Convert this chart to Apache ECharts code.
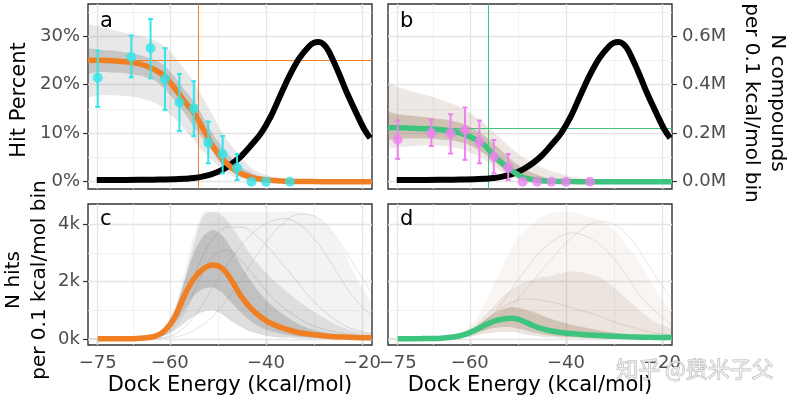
<!DOCTYPE html>
<html><head><meta charset="utf-8">
<script src="https://cdn.jsdelivr.net/npm/echarts@6/dist/echarts.min.js"></script>
<style>html,body{margin:0;padding:0;background:#fff}#c{width:800px;height:402px}</style>
</head><body><div id="c"></div>
<script>
// ---------------- data ----------------
const xTicks = [-75, -60, -40, -20];
const xMinor = [-67.5, -50, -30];
const hitTicks = [0, 10, 20, 30];
const hitMinor = [5, 15, 25, 35];
const cmpTicks = [0, 0.2, 0.4, 0.6];
const nhitTicks = [0, 2, 4];
const nhitMinor = [1, 3];

// N compounds per 0.1 kcal/mol bin (millions)
const cmpX = [-75.2,-70,-65,-62,-59,-57,-55,-53,-51,-49,-47,-45,-43,-41,-39,-37,-35,-33,-31,-30,-29,-28,-27,-25,-23,-21,-19.5,-18.3];
const cmpM = [0.007,0.007,0.008,0.009,0.010,0.012,0.015,0.022,0.033,0.050,0.075,0.108,0.152,0.200,0.268,0.355,0.440,0.510,0.558,0.572,0.575,0.566,0.540,0.455,0.360,0.275,0.215,0.180];

// observed hit rates (%) per bin
const binX  = [-75,-68,-64,-61,-58,-55,-52,-49,-46,-43,-40,-35];
const hitA   = [21.4,25.7,27.5,21.1,16.3,15.1,8.0,5.7,2.9,0,0,0];
const hitALo = [15.4,21.5,21.3,14.8,10.4,9.4,3.8,1.7,0.35,0,0,0];
const hitAHi = [27.0,30.1,33.5,27.5,22.2,20.7,12.4,9.4,5.7,0,0,0];
const hitB   = [8.7,10.0,10.0,10.6,8.2,5.1,2.9,0,0,0,0,0];
const hitBLo = [4.7,7.35,5.8,4.5,3.8,1.7,0.35,0,0,0,0,0];
const hitBHi = [12.6,12.8,13.9,15.3,12.6,8.6,5.7,0,0,0,0,0];

// fitted hit-rate curves (%) and posterior envelopes
const fitX   = [-77,-75,-72,-69,-66,-63,-61,-59,-57,-55,-53,-51,-49,-47,-45,-43,-41,-39,-36,-33,-30,-25,-18];
const fitA   = [25.0,25.0,24.9,24.7,24.2,23.0,21.6,19.3,16.6,14.2,10.8,7.3,4.6,2.8,1.6,0.9,0.5,0.28,0.12,0.05,0.02,0.01,0];
const aOutLo = [17.5,17.8,17.8,17.6,17.2,16.2,14.8,13.0,10.8,8.6,6.2,4.2,2.4,1.2,0.5,0.15,0.05,0,0,0,0,0,0];
const aOutHi = [32.2,32.0,31.3,30.6,30.0,29.0,27.8,25.8,23.2,20.6,17.2,13.6,10.0,7.2,4.8,2.8,1.7,1.1,0.5,0.25,0.1,0.03,0];
const aInLo  = [22.4,22.6,22.5,22.3,21.8,20.8,19.0,16.8,14.2,11.3,8.6,6.0,3.3,2.0,1.0,0.4,0.15,0.05,0,0,0,0,0];
const aInHi  = [27.3,27.2,27.0,26.6,26.0,25.0,23.8,21.6,19.0,16.6,13.2,9.8,7.0,4.8,3.0,1.8,1.0,0.55,0.2,0.08,0.03,0.01,0];
const fitB   = [11.1,11.1,11.0,10.9,10.7,10.3,9.7,8.8,7.6,5.4,3.6,2.1,0.9,0.45,0.2,0.1,0.05,0.02,0.01,0,0,0,0];
const bOutLo = [7.0,7.1,7.3,7.5,7.4,7.0,6.5,5.6,4.6,3.2,1.8,0.8,0.2,0.05,0,0,0,0,0,0,0,0,0];
const bOutHi = [20.0,19.5,18.6,17.8,16.9,15.8,14.8,13.5,12.0,10.2,8.4,6.6,5.1,4.0,3.0,2.2,1.6,1.1,0.6,0.3,0.15,0.05,0];
const bInLo  = [8.8,8.9,8.9,8.9,8.7,8.4,7.9,7.0,5.8,4.2,2.6,1.4,0.5,0.15,0.05,0,0,0,0,0,0,0,0];
const bInHi  = [14.2,13.9,13.6,13.3,12.9,12.4,11.8,10.8,9.5,7.8,6.0,4.2,2.8,1.8,1.1,0.6,0.35,0.2,0.08,0.03,0.01,0,0];

// reference lines
const refAX = [-54.1], refAY = [25.0];
const refBX = [-56.2], refBY = [11.1];

// N hits per 0.1 kcal/mol bin (thousands)
const nX     = [-77,-75,-70,-66,-63,-61,-59,-57,-55,-53,-51,-49,-47,-45,-43,-41,-39,-36,-33,-30,-27,-24,-21,-18];
const nhitC  = [0.01,0.01,0.01,0.03,0.1,0.3,0.75,1.5,2.1,2.45,2.58,2.45,2.0,1.45,1.05,0.76,0.55,0.35,0.22,0.15,0.1,0.07,0.05,0.04];
const cOutLo = [0,0,0,0.01,0.04,0.12,0.3,0.55,0.8,0.95,1.0,0.85,0.6,0.4,0.25,0.15,0.09,0.04,0.02,0.01,0,0,0,0];
const cOutHi = [0.02,0.02,0.03,0.06,0.2,0.45,1.1,2.3,3.6,4.44,4.44,4.44,4.44,4.44,4.44,4.44,4.44,4.44,4.44,4.3,3.9,3.1,2.1,1.2];
const cMidHi = [0.015,0.015,0.02,0.05,0.15,0.38,0.95,2.0,3.3,4.3,4.44,4.3,3.9,3.4,2.9,2.5,2.15,1.7,1.3,0.95,0.65,0.4,0.25,0.15];
const cInLo  = [0.005,0.005,0.01,0.02,0.07,0.2,0.5,1.0,1.5,1.75,1.8,1.6,1.25,0.9,0.6,0.4,0.27,0.15,0.08,0.05,0.03,0.02,0.01,0.01];
const cInHi  = [0.015,0.015,0.02,0.045,0.14,0.4,1.0,2.0,3.0,3.6,3.8,3.6,3.1,2.5,2.0,1.55,1.2,0.8,0.5,0.32,0.2,0.12,0.08,0.06];
const nhitD  = [0.01,0.01,0.015,0.03,0.08,0.16,0.3,0.47,0.62,0.7,0.72,0.63,0.48,0.36,0.28,0.23,0.19,0.15,0.12,0.1,0.08,0.065,0.055,0.05];
const dOutLo = [0,0,0,0.01,0.03,0.07,0.12,0.18,0.22,0.25,0.24,0.18,0.12,0.08,0.05,0.03,0.02,0.01,0,0,0,0,0,0];
const dOutHi = [0.02,0.02,0.03,0.06,0.15,0.3,0.6,1.2,1.9,2.6,3.3,3.7,4.0,4.25,4.4,4.44,4.44,4.3,4.15,3.8,3.2,2.5,1.6,0.9];
const dMidHi = [0.015,0.015,0.02,0.05,0.12,0.25,0.45,0.8,1.15,1.5,1.75,1.95,2.05,2.15,2.2,2.3,2.35,2.3,2.15,1.8,1.35,0.9,0.55,0.35];
const dInLo  = [0.005,0.005,0.01,0.02,0.05,0.1,0.2,0.3,0.38,0.42,0.4,0.33,0.24,0.17,0.12,0.09,0.07,0.05,0.03,0.02,0.015,0.01,0.01,0.01];
const dInHi  = [0.015,0.015,0.02,0.045,0.11,0.22,0.4,0.65,0.88,1.05,1.12,1.05,0.95,0.82,0.7,0.6,0.5,0.4,0.3,0.22,0.16,0.12,0.09,0.07];

// a few individual posterior draws (thousands)
const sX  = [-64,-60,-57,-54,-51,-48,-45,-42,-39,-36,-33,-30,-27,-24,-21,-18];
const cS1 = [0.05,0.4,1.3,2.6,3.5,3.9,3.9,3.6,3.1,2.5,1.9,1.3,0.85,0.5,0.3,0.18];
const cS2 = [0.02,0.1,0.4,1.0,1.8,2.6,3.3,3.8,4.1,4.2,4.0,3.5,2.8,2.0,1.3,0.8];
const cS3 = [0.03,0.25,0.9,2.0,2.9,3.1,2.7,2.1,1.5,1.05,0.7,0.45,0.3,0.2,0.12,0.08];
const cS4 = [0.01,0.05,0.15,0.4,0.8,1.4,2.1,2.9,3.6,4.1,4.35,4.3,3.9,3.2,2.4,1.6];
const dS1 = [0.02,0.15,0.5,1.1,1.8,2.5,3.1,3.5,3.7,3.6,3.3,2.8,2.1,1.4,0.9,0.5];
const dS2 = [0.01,0.1,0.3,0.7,1.2,1.8,2.4,3.0,3.5,3.9,4.1,4.0,3.6,2.9,2.1,1.4];
const dS3 = [0.02,0.2,0.6,1.0,1.3,1.4,1.35,1.25,1.1,0.95,0.8,0.6,0.45,0.3,0.2,0.13];

// ---------------- styling ----------------
const FONT = 'DejaVu Sans';
const ORANGE = '#F07F24', GREEN = '#3EC47E', CYAN = '#33E4EA', VIOLET = '#EE82EE';
const GRAY = 'rgba(120,120,120,', BROWN = 'rgba(150,118,90,';
const XMIN = -77.02, XMAX = -17.92;
const pair = (xs, ys) => xs.map((x, i) => [x, ys[i]]);
const minus = v => v < 0 ? '\u2212' + Math.abs(v) : String(v);
const labelStyle = {color: '#4d4d4d', fontSize: 18, fontFamily: FONT};

function xAxis(gi, labels) {
  return {type: 'value', gridIndex: gi, min: XMIN, max: XMAX,
    axisLine: {show: false}, splitLine: {show: false},
    axisTick: {show: labels, customValues: xTicks, length: 5, lineStyle: {color: '#333', width: 1.2}},
    axisLabel: Object.assign({show: labels, customValues: xTicks, formatter: minus, margin: 9}, labelStyle)};
}
function yAxis(gi, min, max, opts) {
  const o = {type: 'value', gridIndex: gi, min, max, axisLine: {show: false}, splitLine: {show: false}};
  if (!opts) { o.show = false; return o; }
  o.position = opts.pos;
  o.axisTick = {show: true, customValues: opts.ticks, length: 5, lineStyle: {color: '#333', width: 1.2}};
  o.axisLabel = Object.assign({show: true, customValues: opts.ticks, formatter: opts.fmt, margin: opts.margin}, labelStyle);
  return o;
}
function gridLines(xi, yi, yMajor, yMinor) {
  const maj = {color: '#e4e4e4', width: 1.3, type: 'solid'}, mnr = {color: '#efefef', width: 0.8, type: 'solid'};
  const data = [];
  xTicks.forEach(v => data.push({xAxis: v, lineStyle: maj}));
  xMinor.forEach(v => data.push({xAxis: v, lineStyle: mnr}));
  yMajor.forEach(v => data.push({yAxis: v, lineStyle: maj}));
  yMinor.forEach(v => data.push({yAxis: v, lineStyle: mnr}));
  return {type: 'line', xAxisIndex: xi, yAxisIndex: yi, data: [[-76, 0]], showSymbol: false, symbol: 'none',
    lineStyle: {opacity: 0}, silent: true, z: 1,
    markLine: {silent: true, z: 1, symbol: ['none', 'none'], label: {show: false}, emphasis: {disabled: true}, data}};
}
// shaded envelope between two read curves, drawn through the axes' scales
function band(xs, lo, hi, xi, yi, color) {
  const data = xs.map((x, i) => [x, lo[i], hi[i]]);
  return {type: 'custom', xAxisIndex: xi, yAxisIndex: yi, silent: true, z: 2, data, encode: {x: 0, y: [1, 2]},
    renderItem(params, api) {
      if (params.dataIndex !== 0) return null;
      const top = data.map(d => api.coord([d[0], d[2]]));
      const bot = data.map(d => api.coord([d[0], d[1]])).reverse();
      const cs = params.coordSys;
      return {type: 'polygon', shape: {points: top.concat(bot), smooth: 0.25}, style: {fill: color},
        clipPath: {type: 'rect', shape: {x: cs.x, y: cs.y, width: cs.width, height: cs.height}}};
    }};
}
function curve(xs, ys, xi, yi, color, width, z) {
  return {type: 'line', xAxisIndex: xi, yAxisIndex: yi, data: pair(xs, ys), symbol: 'none', smooth: 0.35,
    lineStyle: {color, width, cap: 'butt'}, silent: true, z};
}
function refLines(xi, yi, rx, ry, color) {
  return {type: 'line', xAxisIndex: xi, yAxisIndex: yi, data: [[-76, 0]], symbol: 'none', lineStyle: {opacity: 0}, silent: true, z: 3,
    markLine: {silent: true, z: 3, symbol: ['none', 'none'], label: {show: false}, emphasis: {disabled: true},
      lineStyle: {color, width: 1, type: 'solid'}, data: [{xAxis: rx[0]}, {yAxis: ry[0]}]}};
}
function errBars(xs, lo, hi, xi, yi, color) {
  const data = [];
  xs.forEach((x, i) => { if (hi[i] > lo[i]) data.push([x, lo[i], hi[i]]); });
  return {type: 'custom', xAxisIndex: xi, yAxisIndex: yi, z: 6, silent: true, data, encode: {x: 0, y: [1, 2]},
    renderItem(params, api) {
      const x = api.value(0);
      const a = api.coord([x, api.value(2)]), b = api.coord([x, api.value(1)]);
      const w = 2.5, st = {stroke: color, lineWidth: 2};
      return {type: 'group', children: [
        {type: 'line', shape: {x1: a[0], y1: a[1], x2: b[0], y2: b[1]}, style: st},
        {type: 'line', shape: {x1: a[0] - w, y1: a[1], x2: a[0] + w, y2: a[1]}, style: st},
        {type: 'line', shape: {x1: b[0] - w, y1: b[1], x2: b[0] + w, y2: b[1]}, style: st}]};
    }};
}
function points(xs, ys, xi, yi, color) {
  return {type: 'scatter', xAxisIndex: xi, yAxisIndex: yi, data: pair(xs, ys), symbolSize: 10,
    itemStyle: {color}, silent: true, z: 7};
}
function txt(text, x, y, size, rot, align) {
  return {type: 'text', x, y, rotation: rot || 0, z: 100, silent: true,
    style: {text, font: size + 'px "' + FONT + '"', fill: '#000', align: align || 'center', verticalAlign: 'middle',
      textAlign: align || 'center', textVerticalAlign: 'middle', lineHeight: 26}};
}

const gridBase = {show: true, backgroundColor: '#fff', borderColor: '#333', borderWidth: 1.4, containLabel: false};
const series = [
  // panel a
  gridLines(0, 0, hitTicks, hitMinor),
  band(fitX, aOutLo, aOutHi, 0, 0, GRAY + '0.17)'),
  band(fitX, aInLo, aInHi, 0, 0, GRAY + '0.3)'),
  refLines(0, 0, refAX, refAY, ORANGE),
  curve(cmpX, cmpM, 0, 1, '#000', 6, 4),
  curve(fitX, fitA, 0, 0, ORANGE, 5.5, 5),
  errBars(binX, hitALo, hitAHi, 0, 0, CYAN),
  points(binX, hitA, 0, 0, CYAN),
  // panel b
  gridLines(1, 2, hitTicks, hitMinor),
  band(fitX, bOutLo, bOutHi, 1, 2, BROWN + '0.17)'),
  band(fitX, bInLo, bInHi, 1, 2, BROWN + '0.34)'),
  refLines(1, 2, refBX, refBY, GREEN),
  curve(cmpX, cmpM, 1, 3, '#000', 6, 4),
  curve(fitX, fitB, 1, 2, GREEN, 5.5, 5),
  errBars(binX, hitBLo, hitBHi, 1, 2, VIOLET),
  points(binX, hitB, 1, 2, VIOLET),
  // panel c
  gridLines(2, 4, nhitTicks, nhitMinor),
  band(nX, cOutLo, cOutHi, 2, 4, GRAY + '0.09)'),
  band(nX, cOutLo, cMidHi, 2, 4, GRAY + '0.17)'),
  band(nX, cInLo, cInHi, 2, 4, GRAY + '0.28)'),
  curve(sX, cS1, 2, 4, GRAY + '0.25)', 1, 3),
  curve(sX, cS2, 2, 4, GRAY + '0.22)', 1, 3),
  curve(sX, cS3, 2, 4, GRAY + '0.25)', 1, 3),
  curve(sX, cS4, 2, 4, GRAY + '0.2)', 1, 3),
  curve(nX.slice(1), nhitC.slice(1), 2, 4, ORANGE, 5.5, 5),
  // panel d
  gridLines(3, 5, nhitTicks, nhitMinor),
  band(nX, dOutLo, dOutHi, 3, 5, BROWN + '0.07)'),
  band(nX, dOutLo, dMidHi, 3, 5, BROWN + '0.13)'),
  band(nX, dInLo, dInHi, 3, 5, BROWN + '0.3)'),
  curve(sX, dS1, 3, 5, BROWN + '0.2)', 1, 3),
  curve(sX, dS2, 3, 5, BROWN + '0.18)', 1, 3),
  curve(sX, dS3, 3, 5, BROWN + '0.2)', 1, 3),
  curve(nX.slice(1), nhitD.slice(1), 3, 5, GREEN, 5.5, 5)
];

const option = {
  animation: false,
  backgroundColor: '#fff',
  grid: [
    Object.assign({left: 88, top: 4, width: 284, height: 185}, gridBase),
    Object.assign({left: 388, top: 4, width: 284, height: 185}, gridBase),
    Object.assign({left: 88, top: 204, width: 284, height: 141}, gridBase),
    Object.assign({left: 388, top: 204, width: 284, height: 141}, gridBase)
  ],
  xAxis: [xAxis(0, false), xAxis(1, false), xAxis(2, true), xAxis(3, true)],
  yAxis: [
    yAxis(0, -1.5, 36.6, {pos: 'left', ticks: hitTicks, fmt: v => v + '%', margin: 8}),
    yAxis(0, -0.03, 0.732, null),
    yAxis(1, -1.5, 36.6, null),
    yAxis(1, -0.03, 0.732, {pos: 'right', ticks: cmpTicks, fmt: v => v.toFixed(1) + 'M', margin: 10}),
    yAxis(2, -0.209, 4.708, {pos: 'left', ticks: nhitTicks, fmt: v => v + 'k', margin: 8}),
    yAxis(3, -0.209, 4.708, null)
  ],
  series,
  graphic: [
    txt('a', 100, 21.7, 21, 0, 'left'),
    txt('b', 400, 21.7, 21, 0, 'left'),
    txt('c', 100, 219.4, 21, 0, 'left'),
    txt('d', 400, 219.4, 21, 0, 'left'),
    txt('Hit Percent', 20, 100, 21, Math.PI / 2),
    txt('N compounds\nper 0.1 kcal/mol bin', 764, 103, 20, -Math.PI / 2),
    txt('N hits\nper 0.1 kcal/mol bin', 27, 280, 20, Math.PI / 2),
    txt('Dock Energy (kcal/mol)', 230, 386, 21, 0),
    txt('Dock Energy (kcal/mol)', 530, 386, 21, 0),
    {type: 'text', x: 695, y: 369, z: 110, silent: true,
      style: {text: '知乎 @费米子父', font: '22px "Noto Sans CJK SC"', fill: 'rgba(238,238,238,0.85)',
        stroke: 'rgba(120,120,120,0.55)', lineWidth: 1, align: 'center', verticalAlign: 'middle',
        textAlign: 'center', textVerticalAlign: 'middle'}}
  ]
};
const chart = echarts.init(document.getElementById('c'), null, {renderer: 'canvas'});
chart.setOption(option);
</script>
</body></html>
